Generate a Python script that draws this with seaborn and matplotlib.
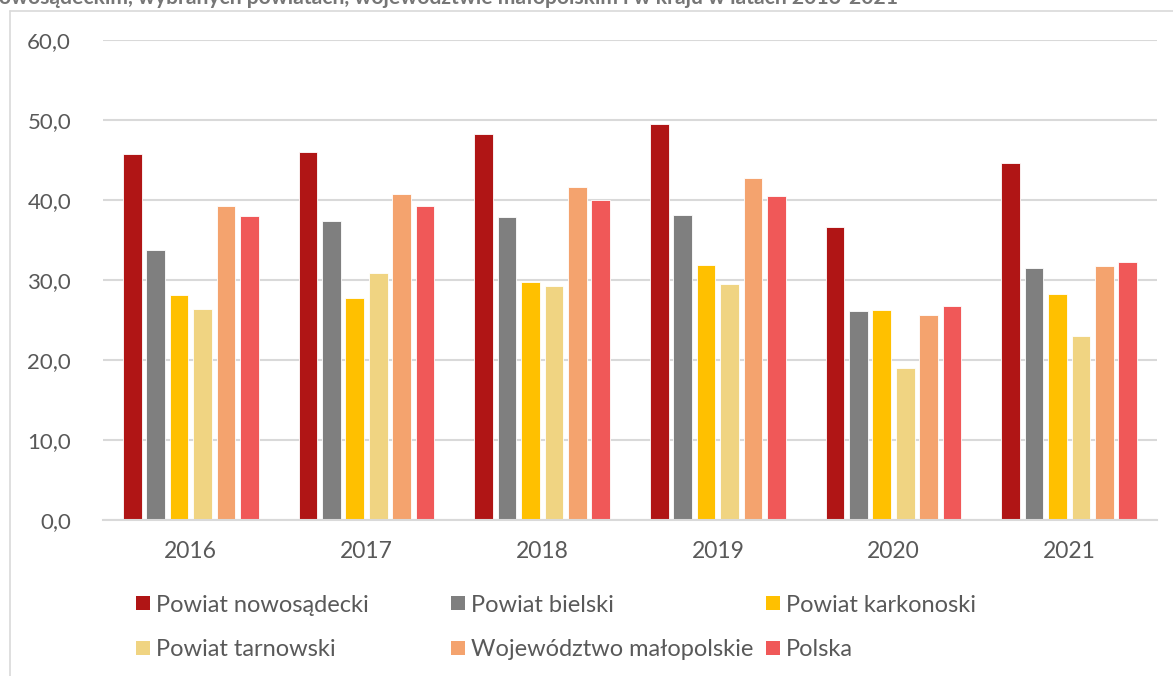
import matplotlib
matplotlib.use("Agg")
import matplotlib.pyplot as plt
from matplotlib.lines import Line2D
from matplotlib.ticker import FuncFormatter, MultipleLocator
import seaborn as sns
import pandas as pd

years = ["2016", "2017", "2018", "2019", "2020", "2021"]
series = [
    "Powiat nowosądecki",
    "Powiat bielski",
    "Powiat karkonoski",
    "Powiat tarnowski",
    "Województwo małopolskie",
    "Polska",
]
nowosadecki = [45.7, 46.0, 48.2, 49.5, 36.6, 44.6]
bielski = [33.8, 37.4, 37.9, 38.1, 26.1, 31.5]
karkonoski = [28.1, 27.8, 29.8, 31.9, 26.3, 28.3]
tarnowski = [26.4, 30.9, 29.3, 29.5, 19.0, 23.0]
malopolskie = [39.3, 40.7, 41.6, 42.8, 25.6, 31.8]
polska = [38.0, 39.2, 40.0, 40.5, 26.7, 32.2]
colors = ["#B01515", "#7F7F7F", "#FFC000", "#F0D482", "#F4A36E", "#F05858"]

title = "nowosądeckim, wybranych powiatach, województwie małopolskim i w kraju w latach 2016-2021"

values = [nowosadecki, bielski, karkonoski, tarnowski, malopolskie, polska]
df = pd.DataFrame(
    [(y, s, v) for s, vals in zip(series, values) for y, v in zip(years, vals)],
    columns=["rok", "seria", "wartosc"],
)

sns.set_theme(style="white")
plt.rcParams["font.family"] = ["Lato", "DejaVu Sans"]

W, H = 1173, 676
fig = plt.figure(figsize=(W / 100, H / 100), dpi=100)
ax = fig.add_axes([103 / W, 1 - 520 / H, (1157 - 103) / W, 480 / H])

sns.barplot(
    data=df, x="rok", y="wartosc", hue="seria", order=years, hue_order=series,
    palette=colors, width=0.8, gap=0.2, edgecolor="white", linewidth=0.6,
    saturation=1, ax=ax, legend=True,
)

ax.set_ylim(0, 60)
ax.yaxis.set_major_locator(MultipleLocator(10))
ax.yaxis.set_major_formatter(FuncFormatter(lambda v, _: f"{v:.1f}".replace(".", ",")))
ax.grid(axis="y", color="#D9D9D9", linewidth=1.5)
ax.set_axisbelow(True)
for side in ["left", "right", "top"]:
    ax.spines[side].set_visible(False)
ax.spines["bottom"].set_color("#D9D9D9")
ax.spines["bottom"].set_linewidth(1.5)
ax.set_xlabel("")
ax.set_ylabel("")
ax.tick_params(axis="y", length=0, pad=23, labelsize=16, labelcolor="#595959")
ax.tick_params(axis="x", length=0, pad=15, labelsize=16.5, labelcolor="#595959")

# legend entries laid out in two rows of three
handles, labels = ax.get_legend_handles_labels()
ax.get_legend().remove()
positions = [(137, 605), (452, 605), (767, 605), (137, 650), (452, 650), (767, 650)]
for h, lab, (px, py) in zip(handles, labels, positions):
    proxy = Line2D([], [], marker="s", linestyle="none", markersize=9.4,
                   markerfacecolor=h.get_facecolor(), markeredgewidth=0)
    leg = fig.legend([proxy], [lab], loc="center left",
                     bbox_to_anchor=(px / W, 1 - py / H), frameon=False,
                     fontsize=17, handlelength=0.55, handletextpad=0.25,
                     borderpad=0, borderaxespad=0)
    for t in leg.get_texts():
        t.set_color("#595959")

# chart frame
fig.add_artist(Line2D([10 / W, 10 / W], [0, 1 - 11 / H], color="#D9D9D9", linewidth=1.2))
fig.add_artist(Line2D([10 / W, 1], [1 - 11 / H, 1 - 11 / H], color="#D9D9D9", linewidth=1.2))

fig.text(-13 / W, 1 - 4 / H, title, ha="left", va="baseline", fontsize=15.2,
         fontweight="bold", color="#767676")

fig.savefig("out.png", dpi=100)
